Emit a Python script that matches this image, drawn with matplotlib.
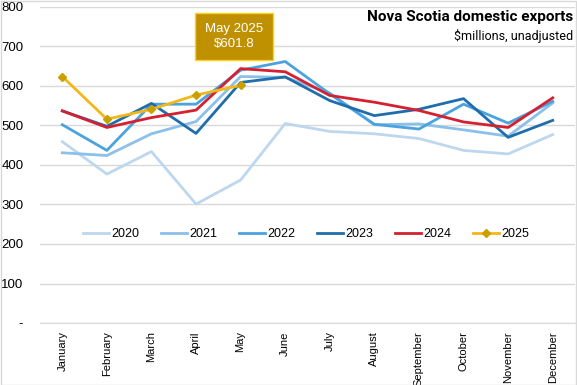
import matplotlib
matplotlib.use("Agg")
import matplotlib.pyplot as plt

months = ["January", "February", "March", "April", "May", "June", "July",
          "August", "September", "October", "November", "December"]

y2020 = [459, 377, 434, 301, 362, 505, 485, 479, 467, 437, 428, 477]
y2021 = [431, 424, 479, 510, 624, 622, 582, 502, 504, 489, 473, 557]
y2022 = [502, 437, 554, 554, 640, 662, 580, 503, 491, 554, 506, 561]
y2023 = [537, 498, 556, 480, 609, 623, 563, 525, 541, 568, 470, 513]
y2024 = [537, 495, 520, 539, 644, 636, 576, 559, 538, 509, 495, 570]
y2025 = [624, 516, 541, 577, 601.8]

series = [
    ("2020", y2020, "#bdd7ee"),
    ("2021", y2021, "#8cc0e8"),
    ("2022", y2022, "#4aa3df"),
    ("2023", y2023, "#1f6eab"),
    ("2024", y2024, "#d42030"),
]

plt.rcParams['font.family'] = ['Liberation Sans', 'DejaVu Sans']

fig = plt.figure(figsize=(5.77, 3.85), dpi=100)
ax = fig.add_axes([40/577, 1 - 323/385, 535/577, 316/385])

x = list(range(12))
for name, vals, col in series:
    ax.plot(x[:len(vals)], vals, color=col, lw=2, label=name)
ax.plot(x[:len(y2025)], y2025, color="#f2b81a", lw=2, marker="D",
        markersize=4, markerfacecolor="#c9a000", markeredgecolor="#c9a000", label="2025")

ax.set_xlim(-0.5, 11.5)
ax.set_ylim(0, 800)
ax.set_yticks(range(0, 801, 100))
ax.set_yticklabels(["-"] + [str(v) for v in range(100, 801, 100)])
ax.set_xticks(x)
ax.set_xticklabels(months, rotation=90, fontsize=8)
ax.tick_params(axis="y", labelsize=9.5, length=0, pad=12)
ax.tick_params(axis="x", length=0, pad=6)
ax.grid(axis="y", color="#d9d9d9", lw=1)
ax.set_axisbelow(True)
for s in ax.spines.values():
    s.set_visible(False)
ax.spines["bottom"].set_visible(True)
ax.spines["bottom"].set_color("#d9d9d9")

leg = ax.legend(loc="center", bbox_to_anchor=(0.497, 0.282), ncol=6, frameon=False,
                fontsize=9, handlelength=2.1, columnspacing=1.75, handletextpad=0.15,
                borderpad=0, borderaxespad=0)

# label for latest point
ax.text(3.85, 725, "May 2025\n$601.8", ha="center", va="center", color="white",
        fontsize=9.5, linespacing=1.35,
        bbox=dict(boxstyle="square,pad=0.75", fc="#bf9000", ec="#ffd21a", lw=1))

fig.text(0.993, 0.975, "Nova Scotia domestic exports", ha="right", va="top",
         fontsize=11, fontweight="bold", family="Roboto")
fig.text(0.993, 0.925, "$millions, unadjusted", ha="right", va="top",
         fontsize=9, family="Roboto")

fig.patches.append(plt.Rectangle((0.001, 0.001), 0.997, 0.997, transform=fig.transFigure,
                                 fill=False, ec="#d9d9d9", lw=1))

fig.savefig("out.png", dpi=100)
